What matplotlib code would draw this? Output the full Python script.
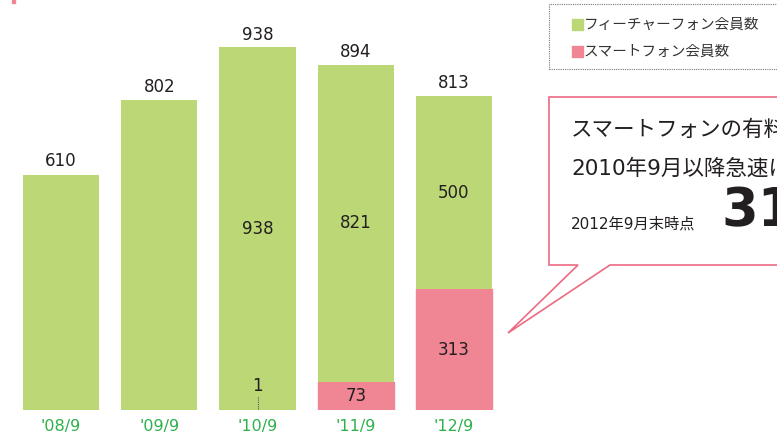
import matplotlib.pyplot as plt
import matplotlib.patches as mpatches
import numpy as np

plt.rcParams['font.family'] = ['Noto Sans CJK JP', 'DejaVu Sans']

# 会員数データ（万人）
periods = ["'08/9", "'09/9", "'10/9", "'11/9", "'12/9"]
smartphone = [0, 0, 1, 73, 313]
feature = [610, 802, 938, 821, 500]
totals = [610, 802, 938, 894, 813]

green = '#bcd876'
pink = '#f08694'
tick_green = '#2eb04b'
text_dark = '#231f20'

W, H = 777, 437
fig = plt.figure(figsize=(W / 100, H / 100), dpi=100)


def fx(px):
    return px / W


def fy(py):
    return 1 - py / H


# 棒グラフ
ax = fig.add_axes([fx(12), fy(410), fx(491), 410 / H])
x = np.arange(len(periods))
ax.bar(x, smartphone, width=0.774, color=pink, ec=pink, lw=1.0, zorder=2)
ax.bar(x, feature, bottom=smartphone, width=0.774, color=green, zorder=2)
ax.set_xlim(-0.5, 4.5)
ax.set_ylim(0, 1062)
ax.axis('off')

num_font = ['DejaVu Sans']
for i in range(len(periods)):
    ax.text(x[i], -42, periods[i], ha='center', va='center', fontsize=11.5,
            color=tick_green, family=num_font)
    ax.text(x[i], totals[i] + 34, str(totals[i]), ha='center', va='center',
            fontsize=12, color=text_dark, family=num_font)
    if i >= 2:
        ax.text(x[i], smartphone[i] + feature[i] / 2, str(feature[i]),
                ha='center', va='center', fontsize=12, color=text_dark,
                family=num_font)
    if i >= 3:
        ax.text(x[i], smartphone[i] / 2, str(smartphone[i]), ha='center',
                va='center', fontsize=12, color=text_dark, family=num_font)

# '10/9 のスマートフォン会員数（引き出し線付き）
ax.text(x[2], 62, str(smartphone[2]), ha='center', va='center', fontsize=12,
        color=text_dark, family=num_font)
ax.plot([x[2], x[2]], [3, 36], color='#555555', lw=0.8, ls=(0, (1, 1)))

# 左上の小さなマーク
fig.patches.append(mpatches.Rectangle((fx(12), fy(3)), fx(3), 3 / H,
                                      transform=fig.transFigure, color=pink))

# 凡例（点線の枠）
fig.patches.append(mpatches.Rectangle((fx(549), fy(69)), fx(240), 65 / H,
                                      transform=fig.transFigure, fill=False,
                                      ec='#777777', lw=0.8, ls=(0, (1, 1))))
for yy, col, lab in [(25, green, 'フィーチャーフォン会員数'),
                     (52, pink, 'スマートフォン会員数')]:
    fig.patches.append(mpatches.Rectangle((fx(572), fy(yy + 5)), fx(11), 11 / H,
                                          transform=fig.transFigure, color=col))
    fig.text(fx(584), fy(yy), lab, ha='left', va='center', fontsize=10.5,
             color='#333333')

# 吹き出し
balloon = [(578, 265), (549, 265), (549, 97), (800, 97), (800, 265),
           (610, 265), (508, 333), (578, 265)]
fig.patches.append(mpatches.Polygon([(fx(a), fy(b)) for a, b in balloon],
                                    closed=True, transform=fig.transFigure,
                                    fc='white', ec='#ec6a82', lw=1.2))
mixed = ['DejaVu Sans', 'Noto Sans CJK JP']
fig.text(fx(571), fy(130), 'スマートフォンの有料会員数は', ha='left',
         va='center', fontsize=15.5, color=text_dark)
fig.text(fx(571), fy(168), '2010年9月以降急速に増加', ha='left',
         va='center', fontsize=15.5, color=text_dark, family=mixed)
fig.text(fx(571), fy(224), '2012年9月末時点', ha='left', va='center',
         fontsize=11, color=text_dark, family=mixed)
fig.text(fx(721), fy(211), '313万人', ha='left', va='center', fontsize=38,
         fontweight='bold', color=text_dark, family=mixed)

fig.savefig('out.png', dpi=100)
